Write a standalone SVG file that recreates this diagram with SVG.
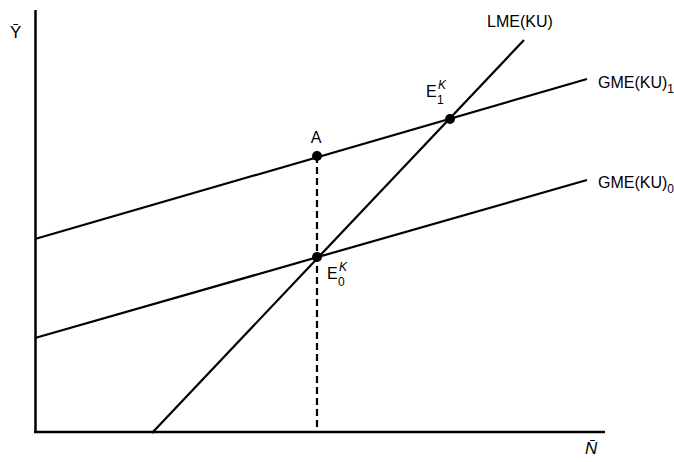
<svg xmlns="http://www.w3.org/2000/svg" width="674" height="462" viewBox="0 0 674 462">
<style>
.ln{stroke:#000;stroke-width:2.2;fill:none;stroke-linecap:butt}
.ax{stroke:#000;stroke-width:2.5;fill:none}
.dash{stroke:#000;stroke-width:2.2;stroke-dasharray:7 4;fill:none}
.t{font-family:"Liberation Sans",Arial,sans-serif;font-size:16px;fill:#000}
.s{font-size:12px}
.i{font-style:italic}
.pt{fill:#000}
</style>
<rect width="674" height="462" fill="#fff"/>
<g id="axes">
<line class="ax" x1="35.5" y1="10" x2="35.5" y2="433"/>
<line class="ax" x1="34" y1="432" x2="605" y2="432"/>
<text class="t" x="10" y="38" style="font-size:17px">Ȳ</text>
<text class="t i" x="585" y="454" style="font-size:17px">N̄</text>
</g>
<g id="connectors">
<line class="ln" x1="35" y1="239" x2="587" y2="79"/>
<line class="ln" x1="35" y1="338" x2="587" y2="180"/>
<line class="ln" x1="152" y1="433" x2="524" y2="40"/>
<line class="dash" x1="317" y1="156" x2="317" y2="432"/>
</g>
<g id="LME">
<text class="t" x="487" y="27">LME(KU)</text>
</g>
<g id="GME1">
<text class="t" x="598" y="88">GME(KU)<tspan class="s" dy="5">1</tspan></text>
</g>
<g id="GME0">
<text class="t" x="598" y="188">GME(KU)<tspan class="s" dy="5">0</tspan></text>
</g>
<g id="A">
<circle class="pt" cx="317" cy="156" r="5"/>
<text class="t" x="316" y="143" text-anchor="middle">A</text>
</g>
<g id="E1">
<circle class="pt" cx="450" cy="119" r="5"/>
<text class="t" x="426" y="97">E</text>
<text class="t s" x="437" y="104">1</text>
<text class="t s i" x="438" y="89">K</text>
</g>
<g id="E0">
<circle class="pt" cx="317" cy="257" r="5"/>
<text class="t" x="327" y="279">E</text>
<text class="t s" x="338" y="286">0</text>
<text class="t s i" x="339" y="271">K</text>
</g>
</svg>
